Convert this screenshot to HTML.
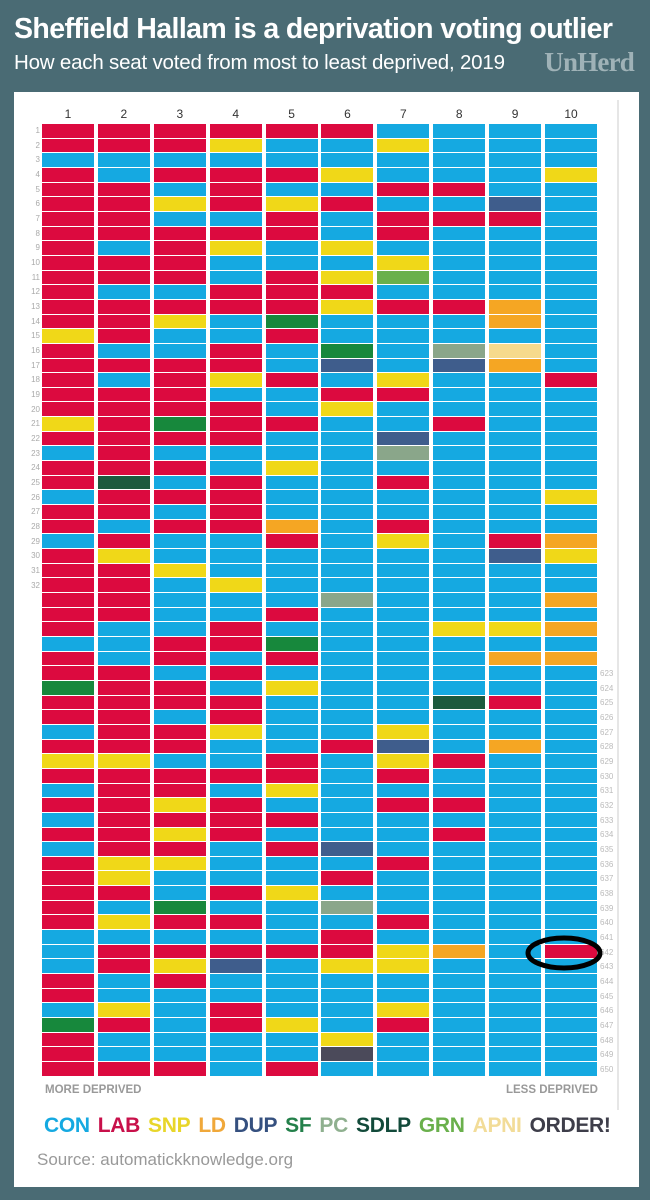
<!DOCTYPE html>
<html><head><meta charset="utf-8"><style>
*{margin:0;padding:0;box-sizing:border-box}
body{width:650px;height:1200px;background:#4a6b74;position:relative;overflow:hidden;font-family:"Liberation Sans",sans-serif}
.t{position:absolute;left:14px;top:13px;color:#fff;font-weight:bold;font-size:28.5px;letter-spacing:-0.6px;white-space:nowrap}
.s{position:absolute;left:14px;top:51px;color:#fff;font-size:20.5px;white-space:nowrap;letter-spacing:-0.2px}
.u{position:absolute;right:16px;top:47px;color:#9fb2b7;font-family:"Liberation Serif",serif;font-weight:bold;font-size:27px;letter-spacing:-0.8px}
.card{position:absolute;left:14px;top:92px;width:625px;height:1095px;background:#fff}
.vl{position:absolute;left:617px;top:100px;width:2px;height:1010px;background:#e6e6e6}
.grid{position:absolute;left:42px;top:124px;display:grid;grid-template-columns:repeat(10,52px);column-gap:3.9px;grid-template-rows:repeat(65,13.67px);row-gap:1px;grid-auto-flow:column}
.grid i{display:block}
.C{background:#15a9e1}.L{background:#dc0a3f}.S{background:#f0d818}.D{background:#f5a623}.U{background:#3f5d8c}.F{background:#17883c}.P{background:#8aa68a}.X{background:#1c5a3e}.G{background:#6ab04c}.A{background:#f6da8c}.O{background:#4b4a5a}
.hd{position:absolute;top:107px;left:42px;display:grid;grid-template-columns:repeat(10,52px);column-gap:3.9px;font-size:12px;color:#333;text-align:center}
.ln{position:absolute;left:28px;top:124px;width:12px;font-size:8px;color:#aaa;text-align:right;line-height:14.67px}
.rn{position:absolute;left:600px;top:667px;font-size:8px;color:#bbb;line-height:14.67px}
.md{position:absolute;top:1084px;font-size:11.5px;font-weight:bold;color:#999}
.lg{position:absolute;left:44px;top:1114px;font-size:21px;font-weight:bold;white-space:nowrap;letter-spacing:-0.3px}
.lg span{margin-right:8px}
.src{position:absolute;left:37px;top:1150px;font-size:17px;color:#999}
svg{position:absolute;left:0;top:0}
</style></head><body>
<div class="t">Sheffield Hallam is a deprivation voting outlier</div>
<div class="s">How each seat voted from most to least deprived, 2019</div>
<div class="u">UnHerd</div>
<div class="card"></div>
<div class="vl"></div>
<div class="hd"><div>1</div><div>2</div><div>3</div><div>4</div><div>5</div><div>6</div><div>7</div><div>8</div><div>9</div><div>10</div></div>
<div class="ln">1<br>2<br>3<br>4<br>5<br>6<br>7<br>8<br>9<br>10<br>11<br>12<br>13<br>14<br>15<br>16<br>17<br>18<br>19<br>20<br>21<br>22<br>23<br>24<br>25<br>26<br>27<br>28<br>29<br>30<br>31<br>32</div>
<div class="rn">623<br>624<br>625<br>626<br>627<br>628<br>629<br>630<br>631<br>632<br>633<br>634<br>635<br>636<br>637<br>638<br>639<br>640<br>641<br>642<br>643<br>644<br>645<br>646<br>647<br>648<br>649<br>650</div>
<div class="grid">
<i class=L></i><i class=L></i><i class=C></i><i class=L></i><i class=L></i><i class=L></i><i class=L></i><i class=L></i><i class=L></i><i class=L></i><i class=L></i><i class=L></i><i class=L></i><i class=L></i><i class=S></i><i class=L></i>
<i class=L></i><i class=L></i><i class=L></i><i class=L></i><i class=S></i><i class=L></i><i class=C></i><i class=L></i><i class=L></i><i class=C></i><i class=L></i><i class=L></i><i class=C></i><i class=L></i><i class=L></i><i class=L></i>
<i class=L></i><i class=L></i><i class=L></i><i class=C></i><i class=L></i><i class=L></i><i class=F></i><i class=L></i><i class=L></i><i class=C></i><i class=L></i><i class=S></i><i class=L></i><i class=C></i><i class=L></i><i class=C></i>
<i class=L></i><i class=C></i><i class=L></i><i class=L></i><i class=L></i><i class=L></i><i class=L></i><i class=C></i><i class=C></i><i class=C></i><i class=L></i><i class=L></i><i class=C></i><i class=F></i><i class=L></i><i class=L></i><i class=L></i>

<i class=L></i><i class=L></i><i class=C></i><i class=C></i><i class=L></i><i class=L></i><i class=L></i><i class=L></i><i class=C></i><i class=L></i><i class=L></i><i class=C></i><i class=L></i><i class=L></i><i class=L></i><i class=C></i>
<i class=L></i><i class=C></i><i class=L></i><i class=L></i><i class=L></i><i class=L></i><i class=L></i><i class=L></i><i class=X></i><i class=L></i><i class=L></i><i class=C></i><i class=L></i><i class=S></i><i class=L></i><i class=L></i>
<i class=L></i><i class=L></i><i class=C></i><i class=C></i><i class=C></i><i class=L></i><i class=L></i><i class=L></i><i class=L></i><i class=L></i><i class=L></i><i class=S></i><i class=L></i><i class=L></i><i class=L></i><i class=L></i>
<i class=L></i><i class=L></i><i class=S></i><i class=S></i><i class=L></i><i class=C></i><i class=S></i><i class=C></i><i class=L></i><i class=L></i><i class=C></i><i class=C></i><i class=S></i><i class=L></i><i class=C></i><i class=C></i><i class=L></i>

<i class=L></i><i class=L></i><i class=C></i><i class=L></i><i class=C></i><i class=S></i><i class=C></i><i class=L></i><i class=L></i><i class=L></i><i class=L></i><i class=C></i><i class=L></i><i class=S></i><i class=C></i><i class=C></i>
<i class=L></i><i class=L></i><i class=L></i><i class=L></i><i class=F></i><i class=L></i><i class=C></i><i class=L></i><i class=C></i><i class=L></i><i class=C></i><i class=L></i><i class=C></i><i class=C></i><i class=S></i><i class=C></i>
<i class=C></i><i class=C></i><i class=C></i><i class=L></i><i class=L></i><i class=C></i><i class=L></i><i class=L></i><i class=C></i><i class=L></i><i class=L></i><i class=C></i><i class=L></i><i class=L></i><i class=S></i><i class=L></i>
<i class=S></i><i class=L></i><i class=S></i><i class=C></i><i class=C></i><i class=F></i><i class=L></i><i class=C></i><i class=L></i><i class=S></i><i class=L></i><i class=C></i><i class=C></i><i class=C></i><i class=C></i><i class=C></i><i class=L></i>

<i class=L></i><i class=S></i><i class=C></i><i class=L></i><i class=L></i><i class=L></i><i class=C></i><i class=L></i><i class=S></i><i class=C></i><i class=C></i><i class=L></i><i class=L></i><i class=C></i><i class=C></i><i class=L></i>
<i class=L></i><i class=S></i><i class=C></i><i class=L></i><i class=L></i><i class=L></i><i class=C></i><i class=C></i><i class=L></i><i class=L></i><i class=L></i><i class=L></i><i class=C></i><i class=C></i><i class=C></i><i class=S></i>
<i class=C></i><i class=C></i><i class=L></i><i class=L></i><i class=C></i><i class=L></i><i class=C></i><i class=L></i><i class=L></i><i class=S></i><i class=C></i><i class=C></i><i class=L></i><i class=C></i><i class=L></i><i class=L></i>
<i class=L></i><i class=C></i><i class=C></i><i class=C></i><i class=L></i><i class=C></i><i class=L></i><i class=C></i><i class=L></i><i class=U></i><i class=C></i><i class=C></i><i class=L></i><i class=L></i><i class=C></i><i class=C></i><i class=C></i>

<i class=L></i><i class=C></i><i class=C></i><i class=L></i><i class=C></i><i class=S></i><i class=L></i><i class=L></i><i class=C></i><i class=C></i><i class=L></i><i class=L></i><i class=L></i><i class=F></i><i class=L></i><i class=C></i>
<i class=C></i><i class=L></i><i class=C></i><i class=C></i><i class=L></i><i class=C></i><i class=C></i><i class=S></i><i class=C></i><i class=C></i><i class=C></i><i class=D></i><i class=L></i><i class=C></i><i class=C></i><i class=C></i>
<i class=C></i><i class=L></i><i class=C></i><i class=F></i><i class=L></i><i class=C></i><i class=S></i><i class=C></i><i class=C></i><i class=C></i><i class=C></i><i class=L></i><i class=L></i><i class=S></i><i class=C></i><i class=L></i>
<i class=C></i><i class=L></i><i class=C></i><i class=C></i><i class=S></i><i class=C></i><i class=C></i><i class=C></i><i class=L></i><i class=C></i><i class=C></i><i class=C></i><i class=C></i><i class=S></i><i class=C></i><i class=C></i><i class=L></i>

<i class=L></i><i class=C></i><i class=C></i><i class=S></i><i class=C></i><i class=L></i><i class=C></i><i class=C></i><i class=S></i><i class=C></i><i class=S></i><i class=L></i><i class=S></i><i class=C></i><i class=C></i><i class=F></i>
<i class=U></i><i class=C></i><i class=L></i><i class=S></i><i class=C></i><i class=C></i><i class=C></i><i class=C></i><i class=C></i><i class=C></i><i class=C></i><i class=C></i><i class=C></i><i class=C></i><i class=C></i><i class=C></i>
<i class=P></i><i class=C></i><i class=C></i><i class=C></i><i class=C></i><i class=C></i><i class=C></i><i class=C></i><i class=C></i><i class=C></i><i class=L></i><i class=C></i><i class=C></i><i class=C></i><i class=C></i><i class=C></i>
<i class=C></i><i class=U></i><i class=C></i><i class=L></i><i class=C></i><i class=P></i><i class=C></i><i class=L></i><i class=L></i><i class=S></i><i class=C></i><i class=C></i><i class=C></i><i class=C></i><i class=S></i><i class=O></i><i class=C></i>

<i class=C></i><i class=S></i><i class=C></i><i class=C></i><i class=L></i><i class=C></i><i class=L></i><i class=L></i><i class=C></i><i class=S></i><i class=G></i><i class=C></i><i class=L></i><i class=C></i><i class=C></i><i class=C></i>
<i class=C></i><i class=S></i><i class=L></i><i class=C></i><i class=C></i><i class=U></i><i class=P></i><i class=C></i><i class=L></i><i class=C></i><i class=C></i><i class=L></i><i class=S></i><i class=C></i><i class=C></i><i class=C></i>
<i class=C></i><i class=C></i><i class=C></i><i class=C></i><i class=C></i><i class=C></i><i class=C></i><i class=C></i><i class=C></i><i class=S></i><i class=U></i><i class=S></i><i class=L></i><i class=C></i><i class=L></i><i class=C></i>
<i class=C></i><i class=C></i><i class=L></i><i class=C></i><i class=C></i><i class=C></i><i class=L></i><i class=C></i><i class=S></i><i class=S></i><i class=C></i><i class=C></i><i class=S></i><i class=L></i><i class=C></i><i class=C></i><i class=C></i>

<i class=C></i><i class=C></i><i class=C></i><i class=C></i><i class=L></i><i class=C></i><i class=L></i><i class=C></i><i class=C></i><i class=C></i><i class=C></i><i class=C></i><i class=L></i><i class=C></i><i class=C></i><i class=P></i>
<i class=U></i><i class=C></i><i class=C></i><i class=C></i><i class=L></i><i class=C></i><i class=C></i><i class=C></i><i class=C></i><i class=C></i><i class=C></i><i class=C></i><i class=C></i><i class=C></i><i class=C></i><i class=C></i>
<i class=C></i><i class=C></i><i class=S></i><i class=C></i><i class=C></i><i class=C></i><i class=C></i><i class=X></i><i class=C></i><i class=C></i><i class=C></i><i class=L></i><i class=C></i><i class=C></i><i class=L></i><i class=C></i>
<i class=L></i><i class=C></i><i class=C></i><i class=C></i><i class=C></i><i class=C></i><i class=C></i><i class=C></i><i class=D></i><i class=C></i><i class=C></i><i class=C></i><i class=C></i><i class=C></i><i class=C></i><i class=C></i><i class=C></i>

<i class=C></i><i class=C></i><i class=C></i><i class=C></i><i class=C></i><i class=U></i><i class=L></i><i class=C></i><i class=C></i><i class=C></i><i class=C></i><i class=C></i><i class=D></i><i class=D></i><i class=C></i><i class=A></i>
<i class=D></i><i class=C></i><i class=C></i><i class=C></i><i class=C></i><i class=C></i><i class=C></i><i class=C></i><i class=C></i><i class=C></i><i class=C></i><i class=C></i><i class=L></i><i class=U></i><i class=C></i><i class=C></i>
<i class=C></i><i class=C></i><i class=S></i><i class=C></i><i class=D></i><i class=C></i><i class=C></i><i class=L></i><i class=C></i><i class=C></i><i class=D></i><i class=C></i><i class=C></i><i class=C></i><i class=C></i><i class=C></i>
<i class=C></i><i class=C></i><i class=C></i><i class=C></i><i class=C></i><i class=C></i><i class=C></i><i class=C></i><i class=C></i><i class=C></i><i class=C></i><i class=C></i><i class=C></i><i class=C></i><i class=C></i><i class=C></i><i class=C></i>

<i class=C></i><i class=C></i><i class=C></i><i class=S></i><i class=C></i><i class=C></i><i class=C></i><i class=C></i><i class=C></i><i class=C></i><i class=C></i><i class=C></i><i class=C></i><i class=C></i><i class=C></i><i class=C></i>
<i class=C></i><i class=L></i><i class=C></i><i class=C></i><i class=C></i><i class=C></i><i class=C></i><i class=C></i><i class=C></i><i class=S></i><i class=C></i><i class=C></i><i class=D></i><i class=S></i><i class=C></i><i class=C></i>
<i class=D></i><i class=C></i><i class=D></i><i class=C></i><i class=D></i><i class=C></i><i class=C></i><i class=C></i><i class=C></i><i class=C></i><i class=C></i><i class=C></i><i class=C></i><i class=C></i><i class=C></i><i class=C></i>
<i class=C></i><i class=C></i><i class=C></i><i class=C></i><i class=C></i><i class=C></i><i class=C></i><i class=C></i><i class=L></i><i class=C></i><i class=C></i><i class=C></i><i class=C></i><i class=C></i><i class=C></i><i class=C></i><i class=C></i>
</div>
<svg width="650" height="1200"><ellipse cx="564" cy="953" rx="36" ry="15" fill="none" stroke="#000" stroke-width="5"/></svg>
<div class="md" style="left:45px">MORE DEPRIVED</div>
<div class="md" style="right:52px">LESS DEPRIVED</div>
<div class="lg"><span style="color:#15a9e1">CON</span><span style="color:#c8104a">LAB</span><span style="color:#e8d62a">SNP</span><span style="color:#f0a83a">LD</span><span style="color:#35507f">DUP</span><span style="color:#23804a">SF</span><span style="color:#8fb08f">PC</span><span style="color:#124a3a">SDLP</span><span style="color:#6ab04c">GRN</span><span style="color:#f2dc98">APNI</span><span style="color:#3e3e4a;margin-right:0">ORDER!</span></div>
<div class="src">Source: automatickknowledge.org</div>
</body></html>
